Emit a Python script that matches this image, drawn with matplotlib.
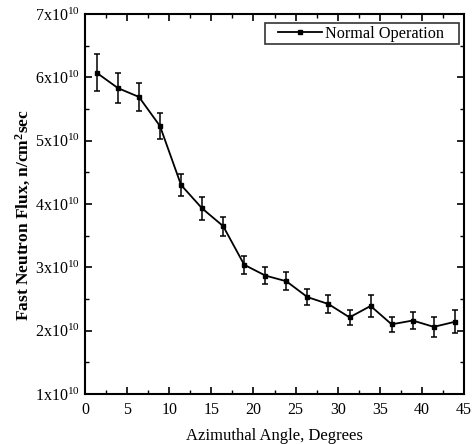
import numpy as np
import matplotlib.pyplot as plt
from matplotlib.ticker import MultipleLocator, FuncFormatter
from matplotlib.legend_handler import HandlerLine2D

plt.rcParams['font.family'] = ['Liberation Serif', 'DejaVu Serif']
plt.rcParams['mathtext.fontset'] = 'custom'
plt.rcParams['mathtext.rm'] = 'Liberation Serif'
plt.rcParams['mathtext.it'] = 'Liberation Serif'
plt.rcParams['mathtext.bf'] = 'Liberation Serif:bold'

angle = [1.4, 3.9, 6.4, 8.9, 11.4, 13.9, 16.4, 18.9, 21.4,
         23.9, 26.4, 28.9, 31.4, 33.9, 36.4, 38.9, 41.4, 43.9]
flux = [6.07, 5.83, 5.69, 5.23, 4.30, 3.93, 3.65, 3.04, 2.87,
        2.78, 2.53, 2.42, 2.21, 2.39, 2.10, 2.16, 2.06, 2.14]
err = [0.29, 0.23, 0.22, 0.20, 0.17, 0.18, 0.15, 0.14, 0.14,
       0.145, 0.13, 0.14, 0.12, 0.17, 0.12, 0.13, 0.16, 0.18]

fig = plt.figure(figsize=(4.76, 4.44), dpi=100)
ax = fig.add_axes([0.1786, 0.1126, 0.7964, 0.856])

ax.errorbar(angle, flux, yerr=err, fmt='none', ecolor='black',
            capsize=2, elinewidth=1.1, capthick=1.1)
line, = ax.plot(angle, flux, color='black', lw=1.3, marker='s', ms=3.5,
                label='Normal Operation')

ax.set_xlim(0, 45)
ax.set_ylim(1, 7)
ax.xaxis.set_major_locator(MultipleLocator(5))
ax.xaxis.set_minor_locator(MultipleLocator(2.5))
ax.yaxis.set_major_locator(MultipleLocator(1))
ax.yaxis.set_minor_locator(MultipleLocator(0.5))
ax.yaxis.set_major_formatter(FuncFormatter(
    lambda v, p: r'$\mathregular{%dx10^{10}}$' % round(v)))
ax.tick_params(which='both', direction='in', top=True, right=True,
               labelsize=11.5)
ax.tick_params(axis='x', pad=6)
ax.tick_params(which='major', length=5, width=1.2)
ax.tick_params(which='minor', length=3, width=1.0)
for s in ax.spines.values():
    s.set_linewidth(1.5)

ax.set_xlabel('Azimuthal Angle, Degrees', fontsize=12)
ax.xaxis.set_label_coords(0.5, -0.089)
ax.set_ylabel(r'Fast Neutron Flux, n/cm$^{\mathbf{2}}$sec', fontsize=12.5,
              fontweight='bold')
ax.yaxis.set_label_coords(-0.137, 0.471)

leg = ax.legend(loc='upper left', bbox_to_anchor=(0.475, 0.976, 0.512, 0.0),
                mode='expand', borderaxespad=0, fontsize=11.7, frameon=True,
                fancybox=False, handlelength=3.35, handletextpad=0.2,
                borderpad=0.15,
                handler_map={line: HandlerLine2D(xpad=0.65)})
leg.get_frame().set_edgecolor('black')
leg.get_frame().set_linewidth(1.2)

fig.savefig('out.png', dpi=100)
